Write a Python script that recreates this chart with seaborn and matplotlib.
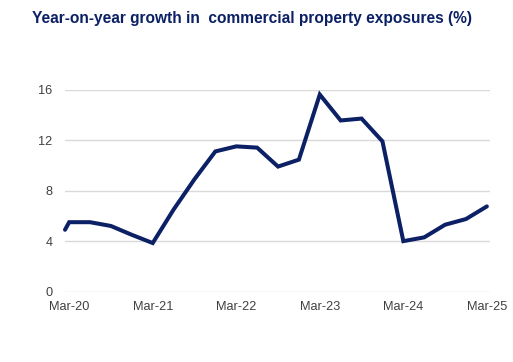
import matplotlib
matplotlib.use('Agg')
import matplotlib.pyplot as plt
import seaborn as sns
import pandas as pd

# --- Data (quarterly, Mar-20 to Mar-25) ---
quarter_pos = [-0.2, 0, 1, 2, 3, 4, 5, 6, 7, 8, 9, 10, 11, 12, 13, 14, 15, 16, 17, 18, 19, 20]
growth_pct = [4.9, 5.5, 5.5, 5.2, 4.5, 3.85, 6.5, 8.9, 11.1, 11.5, 11.4, 9.9, 10.45,
              15.6, 13.55, 13.7, 11.9, 4.0, 4.3, 5.3, 5.75, 6.75]
tick_pos = [0, 4, 8, 12, 16, 20]
tick_labels = ['Mar-20', 'Mar-21', 'Mar-22', 'Mar-23', 'Mar-24', 'Mar-25']
y_ticks = [0, 4, 8, 12, 16]

NAVY = '#0b2065'

df = pd.DataFrame({'q': quarter_pos, 'growth': growth_pct})

sns.set_style('white')
plt.rcParams['font.family'] = ['Liberation Sans', 'DejaVu Sans']

fig = plt.figure(figsize=(5.13, 3.62), dpi=100)
ax = fig.add_axes([65 / 513, 1 - 291.7 / 362, (490 - 65) / 513, (291.7 - 89.5) / 362])

sns.lineplot(data=df, x='q', y='growth', color=NAVY, linewidth=2.9, ax=ax,
             solid_joinstyle='miter', clip_on=False)

ax.set_xlim(-0.2, 20.15)
ax.set_ylim(0, 16)
ax.set_yticks(y_ticks)
ax.set_yticklabels([str(v) for v in y_ticks])
ax.set_xticks(tick_pos)
ax.set_xticklabels(tick_labels)
ax.set_xlabel('')
ax.set_ylabel('')

ax.grid(axis='y', color='#d9d9d9', linewidth=1.0)
ax.set_axisbelow(True)
for side in ['top', 'right', 'left', 'bottom']:
    ax.spines[side].set_visible(False)
ax.tick_params(axis='both', length=0, labelsize=9.2, labelcolor='#404040')
ax.tick_params(axis='y', pad=9)
ax.tick_params(axis='x', pad=7)

fig.text(32 / 513, 1 - 19 / 362, 'Year-on-year growth in  commercial property exposures (%)',
         fontsize=11.2, fontweight='bold', color=NAVY, ha='left', va='center')

fig.savefig('out.png', dpi=100)
